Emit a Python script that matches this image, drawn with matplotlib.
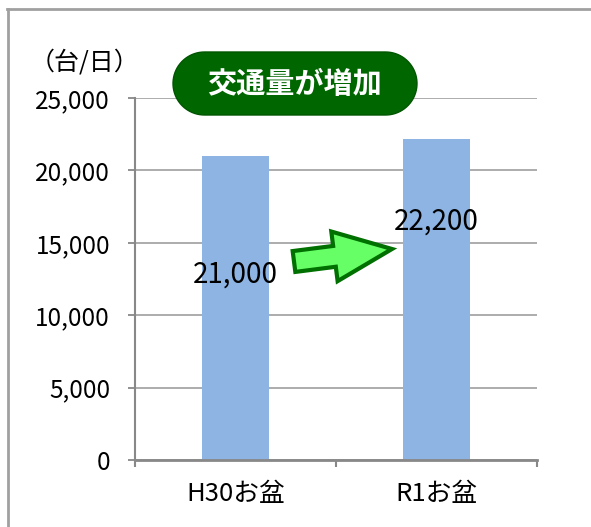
import numpy as np
import matplotlib
matplotlib.use("Agg")
import matplotlib.pyplot as plt
from matplotlib.patches import Polygon, FancyArrow
from matplotlib.lines import Line2D
from matplotlib.ticker import FuncFormatter

plt.rcParams['font.family'] = ['Noto Sans CJK JP', 'DejaVu Sans']

# datos
categorias = ["H30お盆", "R1お盆"]
valores = [21000, 22200]
etiquetas = ["21,000", "22,200"]
pos_etiquetas = [12800, 16450]
yticks = [0, 5000, 10000, 15000, 20000, 25000]

fig = plt.figure(figsize=(5.91, 5.27), dpi=100)
ax = fig.add_axes([135/591, 1-460/527, 402/591, 362/527])

x = np.arange(len(categorias))
ax.bar(x, valores, width=0.333, color="#8EB4E3", zorder=2)

ax.set_xlim(-0.5, 1.5)
ax.set_ylim(0, 25000)
ax.set_yticks(yticks)
ax.yaxis.set_major_formatter(FuncFormatter(lambda v, p: f"{int(v):,}"))
ax.grid(axis="y", color="#A6A6A6", lw=1.3, zorder=0)
ax.tick_params(axis="y", length=5, width=1.3, color="#888888", pad=13,
               labelsize=17.5)

# ticks de categoria
ax.set_xticks([-0.5, 0.5, 1.5])
ax.set_xticklabels([])
ax.set_xticks(x, minor=True)
ax.set_xticklabels(categorias, minor=True)
ax.tick_params(axis="x", which="major", length=5, width=1.5, color="#888888")
ax.tick_params(axis="x", which="minor", length=0, pad=15, labelsize=18.5)

for s in ["top", "right"]:
    ax.spines[s].set_visible(False)
ax.spines["left"].set_color("#888888")
ax.spines["left"].set_linewidth(1.5)
ax.spines["bottom"].set_color("#888888")
ax.spines["bottom"].set_linewidth(2)

# etiquetas de valores
for xi, txt, yp in zip(x, etiquetas, pos_etiquetas):
    ax.text(xi, yp, txt, ha="center", va="center", fontsize=20, zorder=5)

# unidad
fig.text(30/591, 1-62/527, "（台/日）", ha="left", va="center", fontsize=18)

# recuadro verde (forma de pildora)
tr = fig.dpi_scale_trans
r = 0.315
x0, x1, yc = 1.73 + r, 4.17 - r, 4.435
t = np.linspace(-np.pi/2, np.pi/2, 40)
der = np.column_stack([x1 + r*np.cos(t), yc + r*np.sin(t)])
izq = np.column_stack([x0 - r*np.cos(t), yc - r*np.sin(t)])
caja = Polygon(np.vstack([der, izq]), closed=True, fc="#006600",
               ec="#005500", lw=1, transform=tr, zorder=10)
fig.add_artist(caja)
fig.text(2.95, 4.43, "交通量が増加", transform=tr, ha="center", va="center",
         color="white", fontsize=21, fontweight="bold", zorder=11)

# flecha
flecha = FancyArrow(2.94, 2.655, 0.98, 0.125, width=0.21, head_width=0.50,
                    head_length=0.58, length_includes_head=True,
                    fc="#66FF66", ec="#007000", lw=3, transform=tr, zorder=10)
fig.add_artist(flecha)

# marco
fig.add_artist(Line2D([7/591, 1], [1-8.5/527, 1-8.5/527], color="#A0A0A0",
                      lw=2, transform=fig.transFigure))
fig.add_artist(Line2D([7.5/591, 7.5/591], [0, 1-8.5/527], color="#A0A0A0",
                      lw=2, transform=fig.transFigure))

fig.savefig("out.png", dpi=100)
